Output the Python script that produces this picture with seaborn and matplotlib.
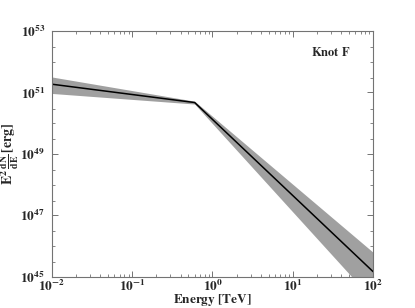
import numpy as np
import pandas as pd
import matplotlib
matplotlib.use("Agg")
import matplotlib.pyplot as plt
import seaborn as sns
from matplotlib.ticker import LogLocator, FixedLocator, FuncFormatter, NullFormatter

# values (broken power law + error band)
energy_tev = [0.01, 0.6, 100.0]
sed_model = [1.86e51, 4.7e50, 1.45e45]
sed_upper = [3.2e51, 5.2e50, 6.2e45]
sed_lower = [9.3e50, 4.2e50, 1.7e44]

y_major = [1e45, 1e47, 1e49, 1e51, 1e53]

df = pd.DataFrame({"Energy": energy_tev, "SED": sed_model})

sns.set_style("ticks")
plt.rcParams["mathtext.fontset"] = "stix"
plt.rcParams["font.family"] = ["STIXGeneral", "DejaVu Serif"]

fig = plt.figure(figsize=(4.15, 3.08), dpi=100)
ax = fig.add_axes([0.125, 0.102, 0.774, 0.797])

ax.fill_between(energy_tev, sed_lower, sed_upper, color="#a0a0a0", linewidth=0)
sns.lineplot(x="Energy", y="SED", data=df, ax=ax, color="black", linewidth=1.1)

ax.set_xscale("log")
ax.set_yscale("log")
ax.set_xlim(1e-2, 1e2)
ax.set_ylim(1e45, 1e53)

ax.xaxis.set_major_locator(LogLocator(base=10, numticks=10))
ax.yaxis.set_major_locator(FixedLocator(y_major))
ax.xaxis.set_minor_locator(LogLocator(base=10, subs=np.arange(2, 10), numticks=20))
ax.yaxis.set_minor_locator(LogLocator(base=10, subs=[1.0, 3.0], numticks=20))
ax.xaxis.set_minor_formatter(NullFormatter())
ax.yaxis.set_minor_formatter(NullFormatter())

fmt = FuncFormatter(lambda v, p: r"$\mathbf{10^{%d}}$" % int(round(np.log10(v))))
ax.xaxis.set_major_formatter(fmt)
ax.yaxis.set_major_formatter(fmt)

for s in ax.spines.values():
    s.set_color("0.45")
    s.set_linewidth(0.8)
ax.tick_params(which="both", direction="in", top=True, right=True, color="0.45",
               labelsize=9.5)
ax.tick_params(axis="x", pad=1.5)
ax.tick_params(axis="y", pad=5)
ax.tick_params(which="major", length=4, width=0.7)
ax.tick_params(which="minor", length=2, width=0.6)

ax.set_xlabel(r"$\mathbf{Energy\ [TeV]}$", fontsize=9.5)
ax.xaxis.set_label_coords(0.5, -0.064)
ax.set_ylabel(r"$\mathbf{E^2\,\frac{dN}{dE}\,[erg]}$", fontsize=10)
ax.yaxis.set_label_coords(-0.095, 0.5)

ax.text(0.93, 0.94, r"$\mathbf{Knot\ F}$", transform=ax.transAxes,
        ha="right", va="top", fontsize=9)

fig.savefig("out.png", dpi=100)
